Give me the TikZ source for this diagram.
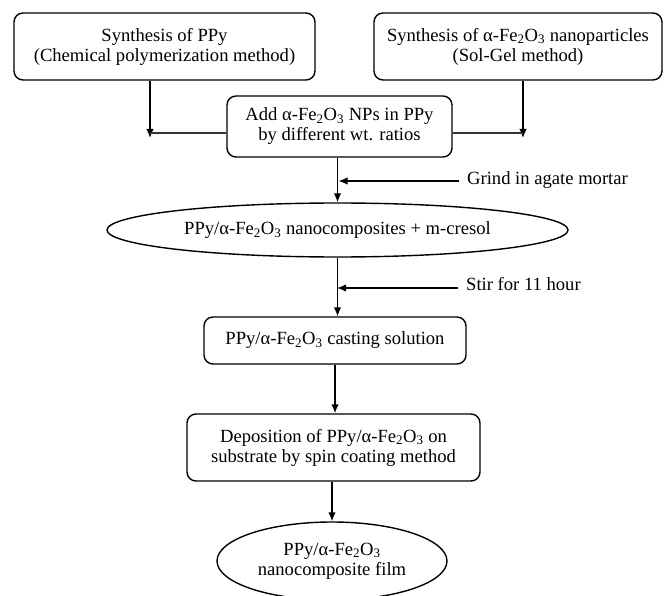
\documentclass[tikz,border=0pt]{standalone}
\usepackage{fontspec}
\setmainfont{Liberation Serif}
\usetikzlibrary{shapes.geometric,arrows.meta}
\newcommand{\feo}{α-Fe\textsubscript{2}O\textsubscript{3}}
\tikzset{
  txt/.style={font=\fontsize{18.6}{20}\selectfont, align=center, inner sep=0pt},
  rbox/.style={txt, draw, line width=1.4pt, rounded corners=9pt},
  ell/.style={txt, draw, ellipse, line width=1.4pt},
  arr/.style={line width=1.4pt, -{Latex[length=9pt,width=7.5pt]}},
  ln/.style={line width=1.4pt, black!80},
}
\begin{document}
\begin{tikzpicture}[x=1pt,y=-1pt]
\useasboundingbox (0,0) rectangle (664,596);
\node[rbox, minimum width=301pt, minimum height=67pt] (b1) at (164.5,46.5)
  {Synthesis of PPy\\(Chemical polymerization method)};
\node[rbox, minimum width=288pt, minimum height=67pt] (b2) at (518,46.5)
  {Synthesis of \feo{} nanoparticles\\(Sol-Gel method)};
\node[rbox, minimum width=225pt, minimum height=61pt] (b3) at (339.5,126.5)
  {Add \feo{} NPs in PPy\\by different wt. ratios};
\node[ell, minimum width=461pt, minimum height=54pt] (e1) at (337.5,230)
  {PPy/\feo{} nanocomposites + m-cresol};
\node[rbox, minimum width=262pt, minimum height=47pt] (b4) at (335,340.5)
  {PPy/\feo{} casting solution};
\node[rbox, minimum width=293pt, minimum height=67pt] (b5) at (333.5,447.5)
  {Deposition of PPy/\feo{} on\\substrate by spin coating method};
\node[ell, minimum width=230pt, minimum height=78pt] (e2) at (332,561)
  {PPy/\feo{}\\nanocomposite film};
\node[txt, anchor=west] (gr) at (467,180) {Grind in agate mortar};
\node[txt, anchor=west] (st) at (466,284) {Stir for 11 hour};
% side arrows into level of box 3
\coordinate (L) at (150,138);
\coordinate (R) at (523,138);
\draw[arr] (L |- b1.south) -- (L);
\draw[arr] (R |- b2.south) -- (R);
\draw[ln] (b3.west |- 0,133) -- (150,133);
\draw[ln] (b3.east |- 0,133) -- (523,133);
% main flow
\draw[arr] (b3.south -| e1.north) -- (e1.north);
\draw[arr] (e1.south) -- (e1.south |- b4.north);
\draw[arr] (b4.south) -- (b4.south |- b5.north);
\draw[arr] (b5.south -| e2.north) -- (e2.north);
% side inputs
\draw[arr] ([xshift=-8pt]gr.west |- 0,181) -- (338.5,181);
\draw[arr] ([xshift=-8pt]st.west |- 0,288) -- (337,288);
\end{tikzpicture}
\end{document}
